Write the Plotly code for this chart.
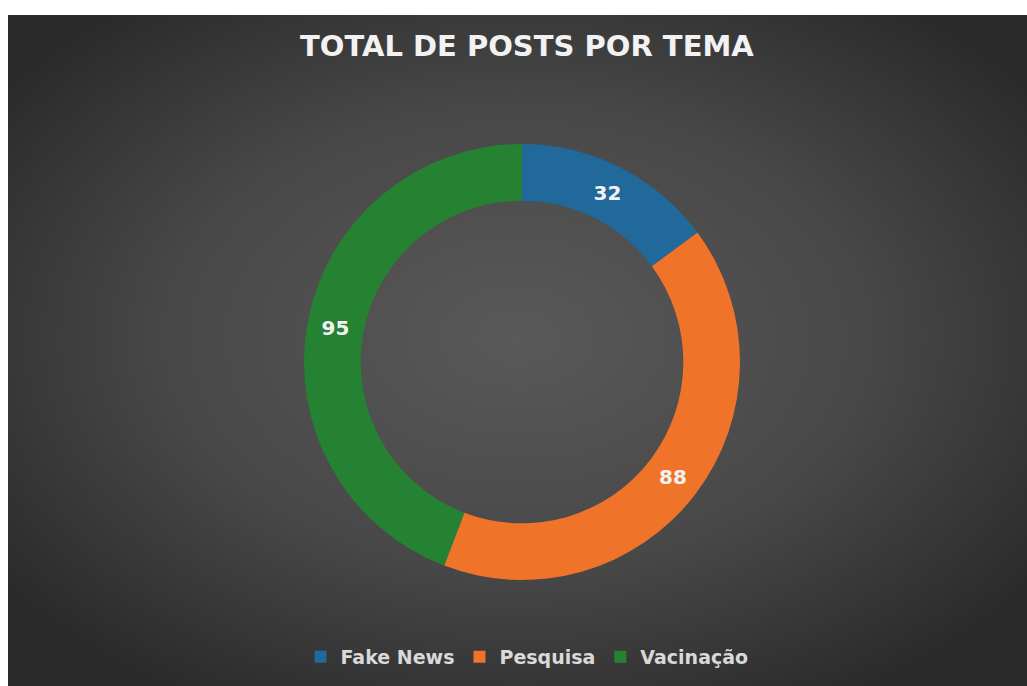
import base64
import plotly.graph_objects as go

# Posts per topic
temas = ["Fake News", "Pesquisa", "Vacinação"]
posts = [32, 88, 95]
cores = ["#20699a", "#ef7329", "#268233"]

titulo = "TOTAL DE POSTS POR TEMA"

W, H = 1027, 686

# Dark radial-gradient backdrop for the chart area
svg = (
    '<svg xmlns="http://www.w3.org/2000/svg" width="1019" height="671" viewBox="0 0 1019 671" preserveAspectRatio="none">'
    '<defs><radialGradient id="g" cx="50%" cy="48%" r="62%">'
    '<stop offset="0%" stop-color="#595959"/>'
    '<stop offset="55%" stop-color="#484848"/>'
    '<stop offset="100%" stop-color="#2b2b2b"/>'
    '</radialGradient></defs>'
    '<rect width="1019" height="671" fill="url(#g)"/></svg>'
)
bg_uri = "data:image/svg+xml;base64," + base64.b64encode(svg.encode()).decode()

cx, cy, r = 522, 362, 218

fig = go.Figure(
    go.Pie(
        labels=temas,
        values=posts,
        sort=False,
        direction="clockwise",
        rotation=0,
        hole=0.74,
        marker=dict(colors=cores, line=dict(width=0)),
        textinfo="value",
        textposition="inside",
        insidetextorientation="horizontal",
        textfont=dict(family="DejaVu Sans", size=20, color="#f2f2f2", weight="bold"),
        domain=dict(
            x=[(cx - r) / W, (cx + r) / W],
            y=[(H - cy - r) / H, (H - cy + r) / H],
        ),
        hoverinfo="label+value+percent",
    )
)

fig.update_layout(
    width=W,
    height=H,
    margin=dict(l=0, r=0, t=0, b=0),
    paper_bgcolor="#ffffff",
    plot_bgcolor="rgba(0,0,0,0)",
    images=[
        dict(
            source=bg_uri,
            xref="paper", yref="paper",
            x=8 / W, y=1 - 15 / H,
            sizex=(W - 8) / W, sizey=(H - 15) / H,
            xanchor="left", yanchor="top",
            sizing="stretch",
            layer="below",
        )
    ],
    annotations=[
        dict(
            text=titulo,
            x=527 / W, y=1 - 46 / H,
            xref="paper", yref="paper",
            xanchor="center", yanchor="middle",
            showarrow=False,
            font=dict(family="DejaVu Sans", size=29, color="#f2f2f2", weight="bold"),
        )
    ],
    showlegend=True,
    legend=dict(
        orientation="h",
        x=527 / W, xanchor="center",
        y=1 - 657 / H, yanchor="middle",
        font=dict(family="DejaVu Sans", size=19, color="#d9d9d9", weight="bold"),
        bgcolor="rgba(0,0,0,0)",
        itemwidth=30,
        traceorder="normal",
    ),
)

fig.write_html("out.html")
